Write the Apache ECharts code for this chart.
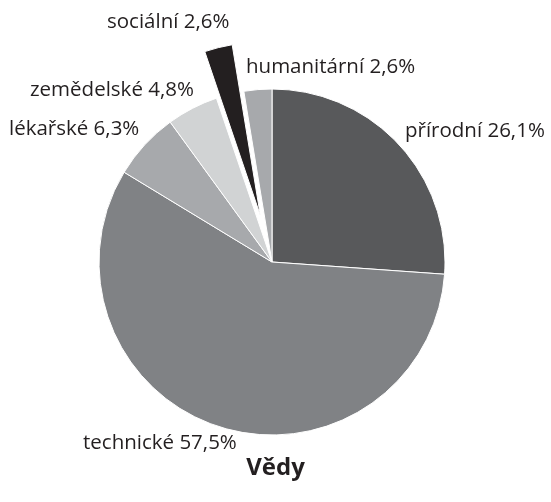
<!DOCTYPE html>
<html>
<head>
<meta charset="utf-8">
<script src="https://cdn.jsdelivr.net/npm/echarts@6/dist/echarts.min.js"></script>
<style>
  html, body { margin: 0; padding: 0; background: #fff; }
  #main { width: 551px; height: 502px; }
</style>
</head>
<body>
<div id="main"></div>
<script>
var categories = ['přírodní', 'technické', 'lékařské', 'zemědelské', 'sociální', 'humanitární'];
var shares = [26.1, 57.5, 6.3, 4.8, 2.6, 2.6];
var colors = ['#58595b', '#808285', '#a7a9ac', '#d1d3d4', '#231f20', '#a7a9ac'];
var exploded = ['sociální'];

// where each label sits (left edge, vertical middle)
var labelSpots = [[405, 131], [83, 443], [9, 129], [30, 90], [107, 22], [246, 67]];

var labelFont = '20.5px "Open Sans"';

function fmt(name, v) {
    return name + ' ' + v.toFixed(1).replace('.', ',') + '%';
}

var myChart = echarts.init(document.getElementById('main'));

var data = categories.map(function (name, i) {
    var isOut = exploded.indexOf(name) >= 0;
    return {
        name: name,
        value: shares[i],
        selected: isOut,
        // the pulled-out slice gets its label as a free text below
        label: isOut ? { show: false } : undefined,
        itemStyle: { color: colors[i] }
    };
});

var extraTexts = [];
categories.forEach(function (name, i) {
    if (exploded.indexOf(name) >= 0) {
        extraTexts.push({
            type: 'text',
            x: labelSpots[i][0],
            y: labelSpots[i][1],
            style: {
                text: fmt(name, shares[i]),
                font: labelFont,
                fill: '#231f20',
                textAlign: 'left',
                textVerticalAlign: 'middle'
            }
        });
    }
});

option = {
    backgroundColor: '#fff',
    animation: false,
    title: {
        text: 'Vědy',
        left: 'center',
        top: 451,
        textStyle: {
            fontFamily: 'Open Sans',
            fontWeight: 'bold',
            fontSize: 24,
            color: '#231f20'
        }
    },
    graphic: extraTexts,
    series: [
        {
            type: 'pie',
            center: [272, 262],
            radius: 173,
            startAngle: 90,
            selectedMode: 'multiple',
            selectedOffset: 48,
            itemStyle: {
                borderColor: '#fff',
                borderWidth: 1
            },
            label: {
                show: true,
                position: 'outside',
                overflow: 'none',
                fontFamily: 'Open Sans',
                fontSize: 20.5,
                color: '#231f20',
                formatter: function (p) {
                    return fmt(p.name, p.value);
                }
            },
            labelLine: { show: false },
            labelLayout: function (p) {
                var s = labelSpots[p.dataIndex];
                return { x: s[0], y: s[1], align: 'left', verticalAlign: 'middle' };
            },
            emphasis: { disabled: true },
            data: data
        }
    ]
};

myChart.setOption(option);
</script>
</body>
</html>
